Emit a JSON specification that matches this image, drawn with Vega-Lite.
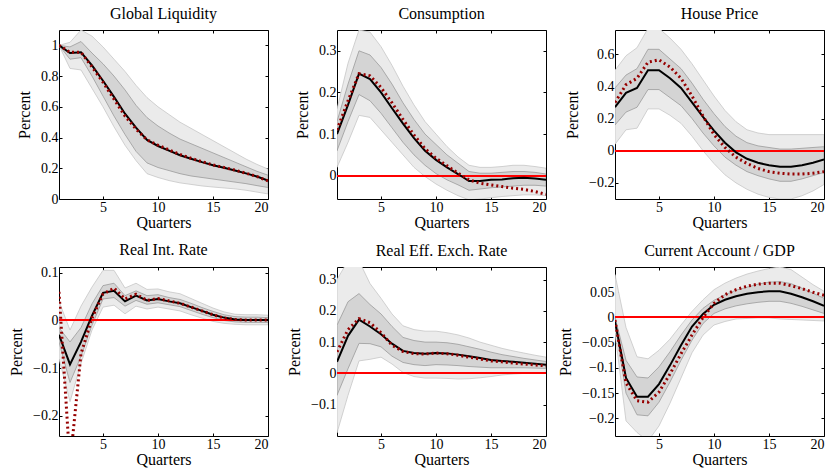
{
"$schema": "https://vega.github.io/schema/vega-lite/v6.json",
"background": "white",
"padding": {"left": 8, "top": 5, "right": 5, "bottom": 5},
"config": {
  "font": "Liberation Serif",
  "view": {"stroke": "#000", "strokeWidth": 1},
  "axis": {"grid": false, "domain": false, "labelColor": "#000", "titleColor": "#000", "tickColor": "#000", "tickSize": -3, "labelPadding": 4, "titlePadding": 8},
  "axisX": {"titlePadding": 0},
  "title": {"font": "Liberation Serif", "fontSize": 16, "fontWeight": "normal", "color": "#000", "offset": 8}
},
"datasets": {"d": [
{"p":"GL","q":1,"ol":1,"oh":1,"il":1,"ih":1,"m":1,"a":1},
{"p":"GL","q":2,"ol":0.85,"oh":1.02,"il":0.91,"ih":0.99,"m":0.95,"a":0.955},
{"p":"GL","q":3,"ol":0.84,"oh":1.1,"il":0.92,"ih":1.025,"m":0.955,"a":0.955},
{"p":"GL","q":4,"ol":0.72,"oh":1.06,"il":0.8,"ih":0.95,"m":0.87,"a":0.86},
{"p":"GL","q":5,"ol":0.6,"oh":0.99,"il":0.67,"ih":0.88,"m":0.77,"a":0.76},
{"p":"GL","q":6,"ol":0.47,"oh":0.91,"il":0.54,"ih":0.8,"m":0.665,"a":0.65},
{"p":"GL","q":7,"ol":0.35,"oh":0.83,"il":0.42,"ih":0.71,"m":0.555,"a":0.54},
{"p":"GL","q":8,"ol":0.25,"oh":0.74,"il":0.31,"ih":0.61,"m":0.465,"a":0.455},
{"p":"GL","q":9,"ol":0.165,"oh":0.66,"il":0.235,"ih":0.53,"m":0.385,"a":0.385},
{"p":"GL","q":10,"ol":0.14,"oh":0.6,"il":0.205,"ih":0.475,"m":0.345,"a":0.35},
{"p":"GL","q":11,"ol":0.12,"oh":0.55,"il":0.185,"ih":0.43,"m":0.315,"a":0.32},
{"p":"GL","q":12,"ol":0.105,"oh":0.5,"il":0.165,"ih":0.39,"m":0.285,"a":0.29},
{"p":"GL","q":13,"ol":0.095,"oh":0.46,"il":0.15,"ih":0.36,"m":0.262,"a":0.265},
{"p":"GL","q":14,"ol":0.085,"oh":0.42,"il":0.14,"ih":0.33,"m":0.24,"a":0.243},
{"p":"GL","q":15,"ol":0.078,"oh":0.38,"il":0.13,"ih":0.3,"m":0.22,"a":0.222},
{"p":"GL","q":16,"ol":0.072,"oh":0.34,"il":0.12,"ih":0.27,"m":0.203,"a":0.205},
{"p":"GL","q":17,"ol":0.066,"oh":0.3,"il":0.11,"ih":0.24,"m":0.186,"a":0.188},
{"p":"GL","q":18,"ol":0.057,"oh":0.26,"il":0.1,"ih":0.21,"m":0.167,"a":0.168},
{"p":"GL","q":19,"ol":0.045,"oh":0.225,"il":0.087,"ih":0.18,"m":0.146,"a":0.146},
{"p":"GL","q":20,"ol":0.033,"oh":0.195,"il":0.075,"ih":0.155,"m":0.12,"a":0.118},
{"p":"C","q":1,"ol":0.02,"oh":0.16,"il":0.06,"ih":0.13,"m":0.1,"a":0.11},
{"p":"C","q":2,"ol":0.08,"oh":0.27,"il":0.13,"ih":0.22,"m":0.17,"a":0.18},
{"p":"C","q":3,"ol":0.145,"oh":0.35,"il":0.195,"ih":0.3,"m":0.245,"a":0.245},
{"p":"C","q":4,"ol":0.14,"oh":0.345,"il":0.18,"ih":0.29,"m":0.232,"a":0.24},
{"p":"C","q":5,"ol":0.11,"oh":0.31,"il":0.15,"ih":0.26,"m":0.2,"a":0.212},
{"p":"C","q":6,"ol":0.08,"oh":0.265,"il":0.115,"ih":0.22,"m":0.162,"a":0.175},
{"p":"C","q":7,"ol":0.05,"oh":0.215,"il":0.08,"ih":0.175,"m":0.125,"a":0.135},
{"p":"C","q":8,"ol":0.02,"oh":0.17,"il":0.05,"ih":0.135,"m":0.09,"a":0.098},
{"p":"C","q":9,"ol":-0.002,"oh":0.13,"il":0.025,"ih":0.1,"m":0.06,"a":0.065},
{"p":"C","q":10,"ol":-0.02,"oh":0.1,"il":0.005,"ih":0.075,"m":0.038,"a":0.042},
{"p":"C","q":11,"ol":-0.035,"oh":0.07,"il":-0.01,"ih":0.05,"m":0.02,"a":0.024},
{"p":"C","q":12,"ol":-0.048,"oh":0.045,"il":-0.022,"ih":0.03,"m":0.004,"a":0.006},
{"p":"C","q":13,"ol":-0.058,"oh":0.025,"il":-0.035,"ih":0.01,"m":-0.013,"a":-0.01},
{"p":"C","q":14,"ol":-0.056,"oh":0.02,"il":-0.032,"ih":0.006,"m":-0.013,"a":-0.018},
{"p":"C","q":15,"ol":-0.053,"oh":0.02,"il":-0.029,"ih":0.006,"m":-0.01,"a":-0.022},
{"p":"C","q":16,"ol":-0.05,"oh":0.022,"il":-0.027,"ih":0.008,"m":-0.009,"a":-0.026},
{"p":"C","q":17,"ol":-0.048,"oh":0.025,"il":-0.025,"ih":0.01,"m":-0.006,"a":-0.03},
{"p":"C","q":18,"ol":-0.046,"oh":0.025,"il":-0.023,"ih":0.01,"m":-0.005,"a":-0.033},
{"p":"C","q":19,"ol":-0.046,"oh":0.022,"il":-0.023,"ih":0.008,"m":-0.007,"a":-0.038},
{"p":"C","q":20,"ol":-0.048,"oh":0.018,"il":-0.025,"ih":0.004,"m":-0.01,"a":-0.045},
{"p":"HP","q":1,"ol":0.04,"oh":0.5,"il":0.16,"ih":0.39,"m":0.27,"a":0.3},
{"p":"HP","q":2,"ol":0.13,"oh":0.59,"il":0.24,"ih":0.47,"m":0.36,"a":0.41},
{"p":"HP","q":3,"ol":0.14,"oh":0.64,"il":0.27,"ih":0.51,"m":0.39,"a":0.45},
{"p":"HP","q":4,"ol":0.26,"oh":0.76,"il":0.38,"ih":0.63,"m":0.5,"a":0.55},
{"p":"HP","q":5,"ol":0.26,"oh":0.76,"il":0.38,"ih":0.63,"m":0.5,"a":0.565},
{"p":"HP","q":6,"ol":0.22,"oh":0.7,"il":0.33,"ih":0.57,"m":0.45,"a":0.52},
{"p":"HP","q":7,"ol":0.17,"oh":0.63,"il":0.28,"ih":0.51,"m":0.39,"a":0.45},
{"p":"HP","q":8,"ol":0.09,"oh":0.54,"il":0.2,"ih":0.42,"m":0.3,"a":0.34},
{"p":"HP","q":9,"ol":0.0,"oh":0.44,"il":0.11,"ih":0.32,"m":0.21,"a":0.215},
{"p":"HP","q":10,"ol":-0.08,"oh":0.34,"il":0.03,"ih":0.23,"m":0.125,"a":0.1},
{"p":"HP","q":11,"ol":-0.15,"oh":0.25,"il":-0.04,"ih":0.15,"m":0.05,"a":0.02},
{"p":"HP","q":12,"ol":-0.2,"oh":0.18,"il":-0.09,"ih":0.09,"m":-0.01,"a":-0.04},
{"p":"HP","q":13,"ol":-0.24,"oh":0.13,"il":-0.13,"ih":0.05,"m":-0.05,"a":-0.08},
{"p":"HP","q":14,"ol":-0.27,"oh":0.11,"il":-0.155,"ih":0.03,"m":-0.075,"a":-0.11},
{"p":"HP","q":15,"ol":-0.29,"oh":0.1,"il":-0.175,"ih":0.02,"m":-0.09,"a":-0.13},
{"p":"HP","q":16,"ol":-0.3,"oh":0.1,"il":-0.19,"ih":0.01,"m":-0.1,"a":-0.14},
{"p":"HP","q":17,"ol":-0.3,"oh":0.1,"il":-0.19,"ih":0.01,"m":-0.1,"a":-0.145},
{"p":"HP","q":18,"ol":-0.28,"oh":0.1,"il":-0.175,"ih":0.015,"m":-0.09,"a":-0.145},
{"p":"HP","q":19,"ol":-0.25,"oh":0.1,"il":-0.155,"ih":0.02,"m":-0.075,"a":-0.14},
{"p":"HP","q":20,"ol":-0.21,"oh":0.1,"il":-0.135,"ih":0.025,"m":-0.055,"a":-0.13},
{"p":"RIR","q":1,"ol":-0.08,"oh":0.04,"il":-0.045,"ih":-0.015,"m":-0.03,"a":0.06},
{"p":"RIR","q":2,"ol":-0.17,"oh":-0.02,"il":-0.13,"ih":-0.045,"m":-0.092,"a":-0.3},
{"p":"RIR","q":3,"ol":-0.09,"oh":0.03,"il":-0.075,"ih":-0.015,"m":-0.045,"a":-0.07},
{"p":"RIR","q":4,"ol":-0.02,"oh":0.07,"il":-0.01,"ih":0.035,"m":0.01,"a":0.005},
{"p":"RIR","q":5,"ol":0.028,"oh":0.105,"il":0.045,"ih":0.073,"m":0.058,"a":0.055},
{"p":"RIR","q":6,"ol":0.032,"oh":0.105,"il":0.048,"ih":0.078,"m":0.062,"a":0.068},
{"p":"RIR","q":7,"ol":0.014,"oh":0.068,"il":0.03,"ih":0.052,"m":0.04,"a":0.045},
{"p":"RIR","q":8,"ol":0.03,"oh":0.078,"il":0.042,"ih":0.062,"m":0.052,"a":0.055},
{"p":"RIR","q":9,"ol":0.024,"oh":0.065,"il":0.034,"ih":0.052,"m":0.042,"a":0.042},
{"p":"RIR","q":10,"ol":0.028,"oh":0.066,"il":0.037,"ih":0.054,"m":0.045,"a":0.046},
{"p":"RIR","q":11,"ol":0.024,"oh":0.06,"il":0.033,"ih":0.048,"m":0.04,"a":0.041},
{"p":"RIR","q":12,"ol":0.02,"oh":0.056,"il":0.029,"ih":0.044,"m":0.036,"a":0.036},
{"p":"RIR","q":13,"ol":0.012,"oh":0.046,"il":0.021,"ih":0.036,"m":0.028,"a":0.028},
{"p":"RIR","q":14,"ol":0.005,"oh":0.036,"il":0.013,"ih":0.027,"m":0.02,"a":0.02},
{"p":"RIR","q":15,"ol":-0.002,"oh":0.026,"il":0.006,"ih":0.019,"m":0.012,"a":0.012},
{"p":"RIR","q":16,"ol":-0.006,"oh":0.018,"il":0.0,"ih":0.012,"m":0.006,"a":0.005},
{"p":"RIR","q":17,"ol":-0.008,"oh":0.013,"il":-0.003,"ih":0.008,"m":0.002,"a":0.002},
{"p":"RIR","q":18,"ol":-0.009,"oh":0.012,"il":-0.004,"ih":0.007,"m":0.001,"a":0.001},
{"p":"RIR","q":19,"ol":-0.009,"oh":0.012,"il":-0.004,"ih":0.007,"m":0.001,"a":0.001},
{"p":"RIR","q":20,"ol":-0.009,"oh":0.011,"il":-0.004,"ih":0.006,"m":0.001,"a":0.001},
{"p":"REER","q":1,"ol":-0.19,"oh":0.3,"il":-0.07,"ih":0.154,"m":0.037,"a":0.069},
{"p":"REER","q":2,"ol":-0.07,"oh":0.36,"il":0.015,"ih":0.229,"m":0.12,"a":0.14},
{"p":"REER","q":3,"ol":0.04,"oh":0.36,"il":0.096,"ih":0.255,"m":0.172,"a":0.175},
{"p":"REER","q":4,"ol":0.045,"oh":0.287,"il":0.095,"ih":0.22,"m":0.15,"a":0.162},
{"p":"REER","q":5,"ol":0.052,"oh":0.24,"il":0.085,"ih":0.19,"m":0.125,"a":0.13},
{"p":"REER","q":6,"ol":0.03,"oh":0.19,"il":0.055,"ih":0.15,"m":0.095,"a":0.09},
{"p":"REER","q":7,"ol":0.003,"oh":0.152,"il":0.035,"ih":0.115,"m":0.072,"a":0.07},
{"p":"REER","q":8,"ol":-0.01,"oh":0.14,"il":0.028,"ih":0.105,"m":0.065,"a":0.063},
{"p":"REER","q":9,"ol":-0.015,"oh":0.135,"il":0.025,"ih":0.1,"m":0.063,"a":0.062},
{"p":"REER","q":10,"ol":-0.015,"oh":0.135,"il":0.028,"ih":0.1,"m":0.065,"a":0.065},
{"p":"REER","q":11,"ol":-0.016,"oh":0.13,"il":0.027,"ih":0.098,"m":0.064,"a":0.063},
{"p":"REER","q":12,"ol":-0.018,"oh":0.123,"il":0.025,"ih":0.093,"m":0.06,"a":0.058},
{"p":"REER","q":13,"ol":-0.017,"oh":0.113,"il":0.022,"ih":0.085,"m":0.055,"a":0.052},
{"p":"REER","q":14,"ol":-0.014,"oh":0.1,"il":0.02,"ih":0.077,"m":0.049,"a":0.046},
{"p":"REER","q":15,"ol":-0.01,"oh":0.09,"il":0.018,"ih":0.068,"m":0.043,"a":0.04},
{"p":"REER","q":16,"ol":-0.005,"oh":0.08,"il":0.018,"ih":0.06,"m":0.04,"a":0.037},
{"p":"REER","q":17,"ol":-0.002,"oh":0.072,"il":0.018,"ih":0.054,"m":0.037,"a":0.033},
{"p":"REER","q":18,"ol":0.0,"oh":0.065,"il":0.018,"ih":0.048,"m":0.034,"a":0.03},
{"p":"REER","q":19,"ol":0.001,"oh":0.058,"il":0.017,"ih":0.043,"m":0.031,"a":0.027},
{"p":"REER","q":20,"ol":0.002,"oh":0.052,"il":0.016,"ih":0.038,"m":0.028,"a":0.024},
{"p":"CA","q":1,"ol":-0.03,"oh":0.085,"il":-0.012,"ih":0.0,"m":-0.008,"a":-0.005},
{"p":"CA","q":2,"ol":-0.205,"oh":-0.02,"il":-0.15,"ih":-0.085,"m":-0.12,"a":-0.13},
{"p":"CA","q":3,"ol":-0.228,"oh":-0.078,"il":-0.193,"ih":-0.118,"m":-0.157,"a":-0.165},
{"p":"CA","q":4,"ol":-0.245,"oh":-0.082,"il":-0.195,"ih":-0.12,"m":-0.157,"a":-0.168},
{"p":"CA","q":5,"ol":-0.215,"oh":-0.065,"il":-0.168,"ih":-0.098,"m":-0.132,"a":-0.148},
{"p":"CA","q":6,"ol":-0.17,"oh":-0.043,"il":-0.128,"ih":-0.068,"m":-0.095,"a":-0.112},
{"p":"CA","q":7,"ol":-0.12,"oh":-0.015,"il":-0.085,"ih":-0.035,"m":-0.055,"a":-0.072},
{"p":"CA","q":8,"ol":-0.07,"oh":0.012,"il":-0.045,"ih":-0.005,"m":-0.018,"a":-0.035},
{"p":"CA","q":9,"ol":-0.035,"oh":0.035,"il":-0.012,"ih":0.018,"m":0.007,"a":0.0},
{"p":"CA","q":10,"ol":-0.015,"oh":0.055,"il":0.008,"ih":0.034,"m":0.025,"a":0.028},
{"p":"CA","q":11,"ol":-0.008,"oh":0.068,"il":0.017,"ih":0.045,"m":0.035,"a":0.045},
{"p":"CA","q":12,"ol":-0.003,"oh":0.078,"il":0.023,"ih":0.054,"m":0.042,"a":0.055},
{"p":"CA","q":13,"ol":-0.002,"oh":0.086,"il":0.027,"ih":0.06,"m":0.047,"a":0.062},
{"p":"CA","q":14,"ol":-0.001,"oh":0.092,"il":0.03,"ih":0.066,"m":0.05,"a":0.066},
{"p":"CA","q":15,"ol":-0.001,"oh":0.097,"il":0.032,"ih":0.07,"m":0.052,"a":0.068},
{"p":"CA","q":16,"ol":-0.003,"oh":0.1,"il":0.032,"ih":0.071,"m":0.052,"a":0.068},
{"p":"CA","q":17,"ol":-0.004,"oh":0.095,"il":0.028,"ih":0.067,"m":0.047,"a":0.063},
{"p":"CA","q":18,"ol":-0.005,"oh":0.08,"il":0.022,"ih":0.058,"m":0.04,"a":0.057},
{"p":"CA","q":19,"ol":-0.006,"oh":0.065,"il":0.015,"ih":0.048,"m":0.032,"a":0.05},
{"p":"CA","q":20,"ol":-0.007,"oh":0.052,"il":0.008,"ih":0.038,"m":0.023,"a":0.044}
]},
"data": {"name": "d"},
"columns": 3,
"spacing": {"row": 68, "column": 69},
"bounds": "flush",
"concat": [
{"title": "Global Liquidity", "width": 209, "height": 169,
 "transform": [{"filter": "datum.p == 'GL'"}],
 "layer": [
  {"mark": {"type": "area", "fill": "#ebebeb", "stroke": "#c6c6c6", "strokeWidth": 0.8, "clip": true},
   "encoding": {"x": {"field": "q", "type": "quantitative", "scale": {"domain": [1, 20], "nice": false}, "axis": {"values": [5, 10, 15, 20], "title": "Quarters", "labelFont": "Liberation Serif", "titleFont": "Liberation Serif", "labelFontSize": 14, "titleFontSize": 16, "titleFontWeight": 400}},
     "y": {"field": "ol", "type": "quantitative", "scale": {"domain": [0, 1.1], "nice": false}, "axis": {"values": [0, 0.2, 0.4, 0.6, 0.8, 1], "format": "~g", "title": "Percent", "labelFont": "Liberation Serif", "titleFont": "Liberation Serif", "labelFontSize": 14, "titleFontSize": 16, "titleFontWeight": 400}},
     "y2": {"field": "oh"}}},
  {"mark": {"type": "area", "fill": "#d4d4d4", "stroke": "#9a9a9a", "strokeWidth": 0.8, "clip": true},
   "encoding": {"x": {"field": "q", "type": "quantitative", "axis": null}, "y": {"field": "il", "type": "quantitative", "axis": null}, "y2": {"field": "ih"}}},
  {"mark": {"type": "line", "color": "#000", "strokeWidth": 2, "clip": true},
   "encoding": {"x": {"field": "q", "type": "quantitative", "axis": {"orient": "top", "values": [5, 10, 15, 20], "labels": false, "title": null}},
     "y": {"field": "m", "type": "quantitative", "axis": {"orient": "right", "values": [0, 0.2, 0.4, 0.6, 0.8, 1], "labels": false, "title": null}}}},
  {"mark": {"type": "line", "color": "#960000", "strokeWidth": 3, "strokeDash": [2, 3], "clip": true},
   "encoding": {"x": {"field": "q", "type": "quantitative", "axis": null}, "y": {"field": "a", "type": "quantitative", "axis": null}}}
 ],
 "resolve": {"axis": {"x": "independent", "y": "independent"}}},
{"title": "Consumption", "width": 209, "height": 169,
 "transform": [{"filter": "datum.p == 'C'"}],
 "layer": [
  {"mark": {"type": "area", "fill": "#ebebeb", "stroke": "#c6c6c6", "strokeWidth": 0.8, "clip": true},
   "encoding": {"x": {"field": "q", "type": "quantitative", "scale": {"domain": [1, 20], "nice": false}, "axis": {"values": [5, 10, 15, 20], "title": "Quarters", "labelFont": "Liberation Serif", "titleFont": "Liberation Serif", "labelFontSize": 14, "titleFontSize": 16, "titleFontWeight": 400}},
     "y": {"field": "ol", "type": "quantitative", "scale": {"domain": [-0.056, 0.35], "nice": false}, "axis": {"values": [0, 0.1, 0.2, 0.3], "format": "~g", "title": "Percent", "labelFont": "Liberation Serif", "titleFont": "Liberation Serif", "labelFontSize": 14, "titleFontSize": 16, "titleFontWeight": 400}},
     "y2": {"field": "oh"}}},
  {"mark": {"type": "area", "fill": "#d4d4d4", "stroke": "#9a9a9a", "strokeWidth": 0.8, "clip": true},
   "encoding": {"x": {"field": "q", "type": "quantitative", "axis": null}, "y": {"field": "il", "type": "quantitative", "axis": null}, "y2": {"field": "ih"}}},
  {"mark": {"type": "rule", "color": "#ff0000", "strokeWidth": 1.3}, "encoding": {"y": {"datum": 0, "type": "quantitative", "axis": null}}},
  {"mark": {"type": "line", "color": "#000", "strokeWidth": 2, "clip": true},
   "encoding": {"x": {"field": "q", "type": "quantitative", "axis": {"orient": "top", "values": [5, 10, 15, 20], "labels": false, "title": null}},
     "y": {"field": "m", "type": "quantitative", "axis": {"orient": "right", "values": [0, 0.1, 0.2, 0.3], "labels": false, "title": null}}}},
  {"mark": {"type": "line", "color": "#960000", "strokeWidth": 3, "strokeDash": [2, 3], "clip": true},
   "encoding": {"x": {"field": "q", "type": "quantitative", "axis": null}, "y": {"field": "a", "type": "quantitative", "axis": null}}}
 ],
 "resolve": {"axis": {"x": "independent", "y": "independent"}}},
{"title": "House Price", "width": 209, "height": 169,
 "transform": [{"filter": "datum.p == 'HP'"}],
 "layer": [
  {"mark": {"type": "area", "fill": "#ebebeb", "stroke": "#c6c6c6", "strokeWidth": 0.8, "clip": true},
   "encoding": {"x": {"field": "q", "type": "quantitative", "scale": {"domain": [1, 20], "nice": false}, "axis": {"values": [5, 10, 15, 20], "title": "Quarters", "labelFont": "Liberation Serif", "titleFont": "Liberation Serif", "labelFontSize": 14, "titleFontSize": 16, "titleFontWeight": 400}},
     "y": {"field": "ol", "type": "quantitative", "scale": {"domain": [-0.3, 0.75], "nice": false}, "axis": {"values": [-0.2, 0, 0.2, 0.4, 0.6], "format": "~g", "title": "Percent", "labelFont": "Liberation Serif", "titleFont": "Liberation Serif", "labelFontSize": 14, "titleFontSize": 16, "titleFontWeight": 400}},
     "y2": {"field": "oh"}}},
  {"mark": {"type": "area", "fill": "#d4d4d4", "stroke": "#9a9a9a", "strokeWidth": 0.8, "clip": true},
   "encoding": {"x": {"field": "q", "type": "quantitative", "axis": null}, "y": {"field": "il", "type": "quantitative", "axis": null}, "y2": {"field": "ih"}}},
  {"mark": {"type": "rule", "color": "#ff0000", "strokeWidth": 1.3}, "encoding": {"y": {"datum": 0, "type": "quantitative", "axis": null}}},
  {"mark": {"type": "line", "color": "#000", "strokeWidth": 2, "clip": true},
   "encoding": {"x": {"field": "q", "type": "quantitative", "axis": {"orient": "top", "values": [5, 10, 15, 20], "labels": false, "title": null}},
     "y": {"field": "m", "type": "quantitative", "axis": {"orient": "right", "values": [-0.2, 0, 0.2, 0.4, 0.6], "labels": false, "title": null}}}},
  {"mark": {"type": "line", "color": "#960000", "strokeWidth": 3, "strokeDash": [2, 3], "clip": true},
   "encoding": {"x": {"field": "q", "type": "quantitative", "axis": null}, "y": {"field": "a", "type": "quantitative", "axis": null}}}
 ],
 "resolve": {"axis": {"x": "independent", "y": "independent"}}},
{"title": "Real Int. Rate", "width": 209, "height": 169,
 "transform": [{"filter": "datum.p == 'RIR'"}],
 "layer": [
  {"mark": {"type": "area", "fill": "#ebebeb", "stroke": "#c6c6c6", "strokeWidth": 0.8, "clip": true},
   "encoding": {"x": {"field": "q", "type": "quantitative", "scale": {"domain": [1, 20], "nice": false}, "axis": {"values": [5, 10, 15, 20], "title": "Quarters", "labelFont": "Liberation Serif", "titleFont": "Liberation Serif", "labelFontSize": 14, "titleFontSize": 16, "titleFontWeight": 400}},
     "y": {"field": "ol", "type": "quantitative", "scale": {"domain": [-0.242, 0.112], "nice": false}, "axis": {"values": [-0.2, -0.1, 0, 0.1], "format": "~g", "title": "Percent", "labelFont": "Liberation Serif", "titleFont": "Liberation Serif", "labelFontSize": 14, "titleFontSize": 16, "titleFontWeight": 400}},
     "y2": {"field": "oh"}}},
  {"mark": {"type": "area", "fill": "#d4d4d4", "stroke": "#9a9a9a", "strokeWidth": 0.8, "clip": true},
   "encoding": {"x": {"field": "q", "type": "quantitative", "axis": null}, "y": {"field": "il", "type": "quantitative", "axis": null}, "y2": {"field": "ih"}}},
  {"mark": {"type": "rule", "color": "#ff0000", "strokeWidth": 1.3}, "encoding": {"y": {"datum": 0, "type": "quantitative", "axis": null}}},
  {"mark": {"type": "line", "color": "#000", "strokeWidth": 2, "clip": true},
   "encoding": {"x": {"field": "q", "type": "quantitative", "axis": {"orient": "top", "values": [5, 10, 15, 20], "labels": false, "title": null}},
     "y": {"field": "m", "type": "quantitative", "axis": {"orient": "right", "values": [-0.2, -0.1, 0, 0.1], "labels": false, "title": null}}}},
  {"mark": {"type": "line", "color": "#960000", "strokeWidth": 3, "strokeDash": [2, 3], "clip": true},
   "encoding": {"x": {"field": "q", "type": "quantitative", "axis": null}, "y": {"field": "a", "type": "quantitative", "axis": null}}}
 ],
 "resolve": {"axis": {"x": "independent", "y": "independent"}}},
{"title": "Real Eff. Exch. Rate", "width": 209, "height": 169,
 "transform": [{"filter": "datum.p == 'REER'"}],
 "layer": [
  {"mark": {"type": "area", "fill": "#ebebeb", "stroke": "#c6c6c6", "strokeWidth": 0.8, "clip": true},
   "encoding": {"x": {"field": "q", "type": "quantitative", "scale": {"domain": [1, 20], "nice": false}, "axis": {"values": [5, 10, 15, 20], "title": "Quarters", "labelFont": "Liberation Serif", "titleFont": "Liberation Serif", "labelFontSize": 14, "titleFontSize": 16, "titleFontWeight": 400}},
     "y": {"field": "ol", "type": "quantitative", "scale": {"domain": [-0.2, 0.34], "nice": false}, "axis": {"values": [-0.1, 0, 0.1, 0.2, 0.3], "format": "~g", "title": "Percent", "labelFont": "Liberation Serif", "titleFont": "Liberation Serif", "labelFontSize": 14, "titleFontSize": 16, "titleFontWeight": 400}},
     "y2": {"field": "oh"}}},
  {"mark": {"type": "area", "fill": "#d4d4d4", "stroke": "#9a9a9a", "strokeWidth": 0.8, "clip": true},
   "encoding": {"x": {"field": "q", "type": "quantitative", "axis": null}, "y": {"field": "il", "type": "quantitative", "axis": null}, "y2": {"field": "ih"}}},
  {"mark": {"type": "rule", "color": "#ff0000", "strokeWidth": 1.3}, "encoding": {"y": {"datum": 0, "type": "quantitative", "axis": null}}},
  {"mark": {"type": "line", "color": "#000", "strokeWidth": 2, "clip": true},
   "encoding": {"x": {"field": "q", "type": "quantitative", "axis": {"orient": "top", "values": [5, 10, 15, 20], "labels": false, "title": null}},
     "y": {"field": "m", "type": "quantitative", "axis": {"orient": "right", "values": [-0.1, 0, 0.1, 0.2, 0.3], "labels": false, "title": null}}}},
  {"mark": {"type": "line", "color": "#960000", "strokeWidth": 3, "strokeDash": [2, 3], "clip": true},
   "encoding": {"x": {"field": "q", "type": "quantitative", "axis": null}, "y": {"field": "a", "type": "quantitative", "axis": null}}}
 ],
 "resolve": {"axis": {"x": "independent", "y": "independent"}}},
{"title": "Current Account / GDP", "width": 209, "height": 169,
 "transform": [{"filter": "datum.p == 'CA'"}],
 "layer": [
  {"mark": {"type": "area", "fill": "#ebebeb", "stroke": "#c6c6c6", "strokeWidth": 0.8, "clip": true},
   "encoding": {"x": {"field": "q", "type": "quantitative", "scale": {"domain": [1, 20], "nice": false}, "axis": {"values": [5, 10, 15, 20], "title": "Quarters", "labelFont": "Liberation Serif", "titleFont": "Liberation Serif", "labelFontSize": 14, "titleFontSize": 16, "titleFontWeight": 400}},
     "y": {"field": "ol", "type": "quantitative", "scale": {"domain": [-0.235, 0.1], "nice": false}, "axis": {"values": [-0.2, -0.15, -0.1, -0.05, 0, 0.05], "format": "~g", "title": "Percent", "labelFont": "Liberation Serif", "titleFont": "Liberation Serif", "labelFontSize": 14, "titleFontSize": 16, "titleFontWeight": 400}},
     "y2": {"field": "oh"}}},
  {"mark": {"type": "area", "fill": "#d4d4d4", "stroke": "#9a9a9a", "strokeWidth": 0.8, "clip": true},
   "encoding": {"x": {"field": "q", "type": "quantitative", "axis": null}, "y": {"field": "il", "type": "quantitative", "axis": null}, "y2": {"field": "ih"}}},
  {"mark": {"type": "rule", "color": "#ff0000", "strokeWidth": 1.3}, "encoding": {"y": {"datum": 0, "type": "quantitative", "axis": null}}},
  {"mark": {"type": "line", "color": "#000", "strokeWidth": 2, "clip": true},
   "encoding": {"x": {"field": "q", "type": "quantitative", "axis": {"orient": "top", "values": [5, 10, 15, 20], "labels": false, "title": null}},
     "y": {"field": "m", "type": "quantitative", "axis": {"orient": "right", "values": [-0.2, -0.15, -0.1, -0.05, 0, 0.05], "labels": false, "title": null}}}},
  {"mark": {"type": "line", "color": "#960000", "strokeWidth": 3, "strokeDash": [2, 3], "clip": true},
   "encoding": {"x": {"field": "q", "type": "quantitative", "axis": null}, "y": {"field": "a", "type": "quantitative", "axis": null}}}
 ],
 "resolve": {"axis": {"x": "independent", "y": "independent"}}}
]
}
